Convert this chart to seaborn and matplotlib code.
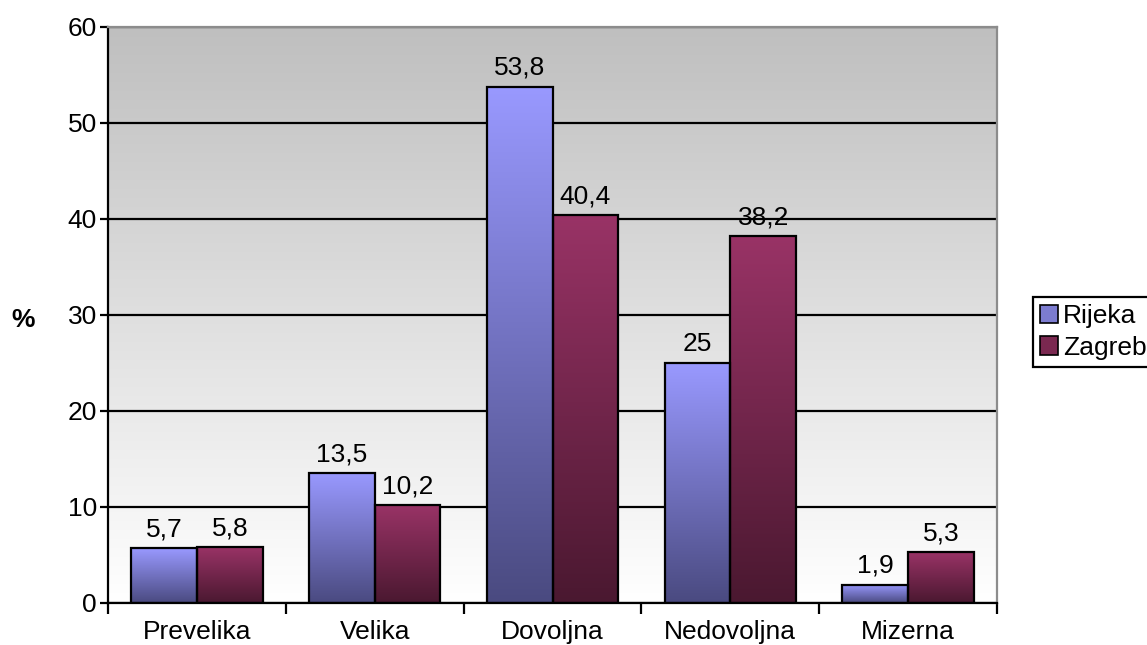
import numpy as np
import pandas as pd
import seaborn as sns
import matplotlib.pyplot as plt
import matplotlib.colors as mcolors
from matplotlib.patches import Patch

categories = ['Prevelika', 'Velika', 'Dovoljna', 'Nedovoljna', 'Mizerna']
cities = ['Rijeka', 'Zagreb']
rijeka = [5.7, 13.5, 53.8, 25, 1.9]
zagreb = [5.8, 10.2, 40.4, 38.2, 5.3]
y_ticks = [0, 10, 20, 30, 40, 50, 60]

top_colors = {'Rijeka': '#9999ff', 'Zagreb': '#993366'}
bottom_colors = {'Rijeka': '#4a4a80', 'Zagreb': '#4a1830'}

df = pd.DataFrame({
    'kategorija': categories * 2,
    'grad': ['Rijeka'] * len(categories) + ['Zagreb'] * len(categories),
    'vrijednost': rijeka + zagreb,
})


def fmt(v):
    # croatian decimal comma, integers without decimals
    if float(v).is_integer():
        return str(int(v))
    return ('%.1f' % v).replace('.', ',')


sns.set_style('white')
plt.rcParams['font.family'] = ['Liberation Sans', 'DejaVu Sans']
plt.rcParams['text.color'] = 'black'
plt.rcParams['xtick.color'] = 'black'
plt.rcParams['ytick.color'] = 'black'

FS = 19

fig = plt.figure(figsize=(11.47, 6.45), dpi=100)
ax = fig.add_axes([108 / 1147, 1 - 603 / 645, (997 - 108) / 1147, (603 - 27) / 645])

sns.barplot(data=df, x='kategorija', y='vrijednost', hue='grad', order=categories,
            hue_order=cities, palette=top_colors, width=0.74, edgecolor='black',
            linewidth=1.6, legend=False, ax=ax, zorder=3)

# background gradient: grey on top, white at bottom
bg = np.linspace(0, 1, 256).reshape(-1, 1)
bg_cmap = mcolors.LinearSegmentedColormap.from_list('bg', ['#ffffff', '#bfbfbf'])
ax.imshow(bg, extent=[-0.5, 4.5, 0, 60], origin='lower', aspect='auto', cmap=bg_cmap, zorder=0)

# vertical gradient inside each bar
grad = np.linspace(0, 1, 256).reshape(-1, 1)
for container, city in zip(ax.containers, cities):
    cmap = mcolors.LinearSegmentedColormap.from_list(city, [bottom_colors[city], top_colors[city]])
    for bar in container:
        x0, y0 = bar.get_x(), bar.get_y()
        w, h = bar.get_width(), bar.get_height()
        im = ax.imshow(grad, extent=[x0, x0 + w, y0, y0 + h], origin='lower', aspect='auto',
                       cmap=cmap, zorder=3.5)
        im.set_clip_path(bar)
        bar.set_facecolor('none')
        bar.set_zorder(4)
    ax.bar_label(container, labels=[fmt(v) for v in container.datavalues], padding=5,
                 fontsize=FS, color='black', zorder=5)

ax.set_xlim(-0.5, 4.5)
ax.set_ylim(0, 60)
ax.set_yticks(y_ticks)
ax.set_yticklabels([str(t) for t in y_ticks], fontsize=FS)
ax.yaxis.grid(True, color='black', linewidth=1.6, zorder=1)
ax.set_axisbelow(False)

ax.set_xticks(np.arange(-0.5, 5, 1))
ax.set_xticklabels([])
ax.set_xticks(np.arange(len(categories)), minor=True)
ax.set_xticklabels(categories, minor=True, fontsize=FS)
ax.tick_params(axis='x', which='major', direction='out', length=8, width=1.6, color='black', bottom=True)
ax.tick_params(axis='x', which='minor', length=0, pad=12)
ax.tick_params(axis='y', direction='out', length=6, width=1.6, color='black', left=True, pad=2)

ax.set_xlabel('')
ax.set_ylabel('')
for side in ['left', 'bottom']:
    ax.spines[side].set_color('black')
    ax.spines[side].set_linewidth(1.6)
for side in ['top', 'right']:
    ax.spines[side].set_color('#8c8c8c')
    ax.spines[side].set_linewidth(1.6)
for sp in ax.spines.values():
    sp.set_zorder(6)

fig.text(23 / 1147, 1 - 320 / 645, '%', fontsize=FS, fontweight='bold', ha='center', va='center')

handles = [Patch(facecolor='#7c7cd0', edgecolor='black', linewidth=1.2, label='Rijeka'),
           Patch(facecolor='#7a2850', edgecolor='black', linewidth=1.2, label='Zagreb')]
leg = fig.legend(handles=handles, loc='center left', bbox_to_anchor=(1033 / 1147, 1 - 332 / 645),
                 fontsize=FS, frameon=True, fancybox=False, edgecolor='black', framealpha=1,
                 handlelength=0.7, handleheight=0.7, handletextpad=0.2, borderpad=0.25,
                 labelspacing=0.3, borderaxespad=0)
leg.get_frame().set_linewidth(1.6)

fig.savefig('out.png', dpi=100)
